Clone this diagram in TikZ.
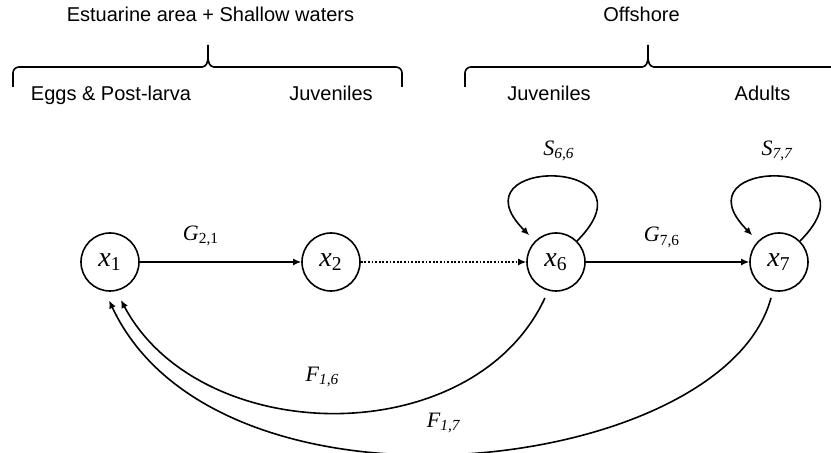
\documentclass[tikz,border=0pt]{standalone}
\usepackage{fontspec}
\setmainfont{Liberation Sans}
\newfontfamily\tnr{Liberation Serif}
\usetikzlibrary{arrows.meta}
\pgfdeclarelayer{edgelayer}
\pgfdeclarelayer{nodelayer}
\pgfsetlayers{edgelayer,nodelayer,main}
\tikzstyle{none}=[inner sep=0pt]
\tikzstyle{zone}=[inner sep=0pt, anchor=base, font=\fontsize{10}{12}\selectfont]
\tikzstyle{rate}=[inner sep=0pt, font=\tnr\fontsize{11}{13}\selectfont]
\tikzstyle{stage}=[circle, fill=white, draw=black, line width=0.8pt, minimum size=29pt, inner sep=0pt, font=\tnr\fontsize{14}{16}\selectfont]
\tikzstyle{flow}=[draw=black, line width=0.8pt, -{Latex[length=4pt,width=3.5pt]}]
\tikzstyle{slow}=[flow, dash pattern=on 0.9pt off 0.9pt]
\tikzstyle{bracket}=[draw=black, line width=0.8pt]
\newcommand{\sym}[2]{\textit{#1}\textsubscript{#2}}

\begin{document}
\begin{tikzpicture}[x=25pt, y=25pt]
			\useasboundingbox (0, 0) rectangle (16.62, -9.06);
			\begin{pgfonlayer}{nodelayer}
			\node [style=zone] (estuary) at (4.21, -0.44) {Estuarine area + Shallow waters};
			\node [style=zone] (offshore) at (12.83, -0.44) {Offshore};
			\node [style=zone] (eggs) at (2.22, -2.02) {Eggs \& Post-larva};
			\node [style=zone] (juvin) at (6.62, -2.02) {Juveniles};
			\node [style=zone] (juvout) at (10.98, -2.02) {Juveniles};
			\node [style=zone] (adults) at (15.25, -2.02) {Adults};
			\node [style=stage] (x1) at (2.2, -5.24) {\sym{x}{1}};
			\node [style=stage] (x2) at (6.62, -5.24) {\sym{x}{2}};
			\node [style=stage] (x6) at (11.12, -5.24) {\sym{x}{6}};
			\node [style=stage] (x7) at (15.58, -5.24) {\sym{x}{7}};
			\node [style=rate] (g21) at (4.02, -4.72) {\sym{G}{2,1}};
			\node [style=rate] (g76) at (13.24, -4.75) {\sym{G}{7,6}};
			\node [style=rate] (s66) at (11.18, -3.02) {\sym{S}{\textit{6,6}}};
			\node [style=rate] (s77) at (15.55, -3.02) {\sym{S}{\textit{7,7}}};
			\node [style=rate] (f16) at (6.45, -7.54) {\sym{F}{\textit{1,6}}};
			\node [style=rate] (f17) at (8.88, -8.46) {\sym{F}{\textit{1,7}}};
			\end{pgfonlayer}
			\begin{pgfonlayer}{edgelayer}
			% braces over the two zones
			\draw [style=bracket] (0.26, -1.74) -- (0.26, -1.46) to [out=90, in=180] (0.38, -1.34) -- (4.04, -1.34) to [out=0, in=-90] (4.16, -1.14) -- (4.16, -0.9);
			\draw [style=bracket] (4.16, -1.14) to [out=-90, in=180] (4.28, -1.34) -- (7.92, -1.34) to [out=0, in=90] (8.04, -1.46) -- (8.04, -1.74);
			\draw [style=bracket] (9.3, -1.74) -- (9.3, -1.46) to [out=90, in=180] (9.42, -1.34) -- (12.84, -1.34) to [out=0, in=-90] (12.96, -1.14) -- (12.96, -0.9);
			\draw [style=bracket] (12.96, -1.14) to [out=-90, in=180] (13.08, -1.34) -- (16.62, -1.34);
			% transitions
			\draw [style=flow] (x1) to (x2);
			\draw [style=slow] (x2) to (x6);
			\draw [style=flow] (x6) to (x7);
			\draw [style=flow, shorten >=4pt, out=45, in=135, min distance=60pt] (x6) to (x6);
			\draw [style=flow, shorten >=4pt, out=45, in=135, min distance=60pt] (x7) to (x7);
			\draw [style=flow, shorten <=4pt, shorten >=5pt, out=-115, in=-62, looseness=1.06] (x6.-105) to (x1.-78);
			\draw [style=flow, shorten <=3.5pt, shorten >=5pt, out=-105, in=-65, out looseness=0.73, in looseness=1.03] (x7.-102) to (x1.-100);
			\end{pgfonlayer}
\end{tikzpicture}
\end{document}
